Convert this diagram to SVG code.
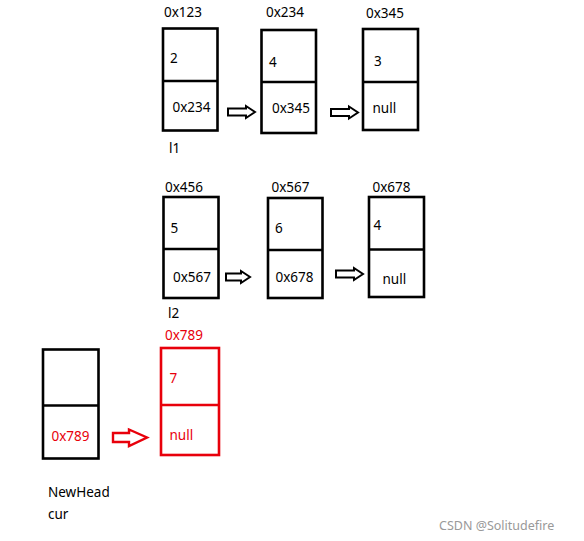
<svg xmlns="http://www.w3.org/2000/svg" width="584" height="541" viewBox="0 0 584 541">
<style>
text{font-family:"Noto Sans","Liberation Sans",Arial,sans-serif;font-size:13.5px;fill:#000}
.red{fill:#e8000b}
.box{fill:#fff;stroke:#000;stroke-width:2.6}
.rbox{fill:#fff;stroke:#e8000b;stroke-width:2.6}
.arr{fill:#fff;stroke:#000;stroke-width:2}
.rarr{fill:#fff;stroke:#e8000b;stroke-width:2.4}
.wm{fill:#999;font-size:12.5px}
</style>
<rect width="584" height="541" fill="#fff"/>
<g id="connectors">
<path class="arr" d="M228,108.5H246V106L255,112L246,118V115.5H228Z"/>
<path class="arr" d="M331,109H349V106.5L358,112.5L349,118.5V116H331Z"/>
<path class="arr" d="M226,273.5H241V271L250,277L241,283V280.5H226Z"/>
<path class="arr" d="M336,270.5H354V268L363,274L354,280V277.5H336Z"/>
<path class="rarr" d="M113,433H129V429.5L147,437.5L129,446V442H113Z"/>
</g>
<g id="n1">
<text x="164" y="17">0x123</text>
<rect class="box" x="163" y="28.5" width="54.5" height="102"/>
<line class="box" x1="163" y1="81" x2="217.5" y2="81"/>
<text x="170" y="63">2</text>
<text x="172.5" y="112">0x234</text>
<text x="169" y="153">l1</text>
</g>
<g id="n2">
<text x="266" y="17">0x234</text>
<rect class="box" x="261.5" y="30" width="54.5" height="103"/>
<line class="box" x1="261.5" y1="82" x2="316" y2="82"/>
<text x="269" y="67">4</text>
<text x="272" y="113">0x345</text>
</g>
<g id="n3">
<text x="366" y="18">0x345</text>
<rect class="box" x="363" y="29" width="55" height="101"/>
<line class="box" x1="363" y1="82" x2="418" y2="82"/>
<text x="374" y="66">3</text>
<text x="372.5" y="113">null</text>
</g>
<g id="n4">
<text x="165" y="192">0x456</text>
<rect class="box" x="163.5" y="197" width="55" height="101"/>
<line class="box" x1="163.5" y1="249" x2="218.5" y2="249"/>
<text x="170.5" y="233">5</text>
<text x="173" y="282">0x567</text>
<text x="168" y="318">l2</text>
</g>
<g id="n5">
<text x="271.5" y="192">0x567</text>
<rect class="box" x="268" y="198" width="54.5" height="100"/>
<line class="box" x1="268" y1="250" x2="322.5" y2="250"/>
<text x="275" y="233">6</text>
<text x="275.5" y="282">0x678</text>
</g>
<g id="n6">
<text x="372.5" y="192">0x678</text>
<rect class="box" x="369" y="197" width="55" height="100"/>
<line class="box" x1="369" y1="249.5" x2="424" y2="249.5"/>
<text x="373.5" y="229.5">4</text>
<text x="382.5" y="284">null</text>
</g>
<g id="n7">
<rect class="box" x="43" y="349.5" width="55.5" height="109"/>
<line class="box" x1="43" y1="405.5" x2="98.5" y2="405.5"/>
<text class="red" x="51.5" y="441">0x789</text>
<text x="48" y="497">NewHead</text>
<text x="48" y="518.5">cur</text>
</g>
<g id="n8">
<text class="red" x="165" y="340">0x789</text>
<rect class="rbox" x="161" y="348" width="58" height="107"/>
<line class="rbox" x1="161" y1="405" x2="219" y2="405"/>
<text class="red" x="169.5" y="383">7</text>
<text class="red" x="169.5" y="439.5">null</text>
</g>
<text class="wm" x="439" y="529.5">CSDN @Solitudefire</text>
</svg>
